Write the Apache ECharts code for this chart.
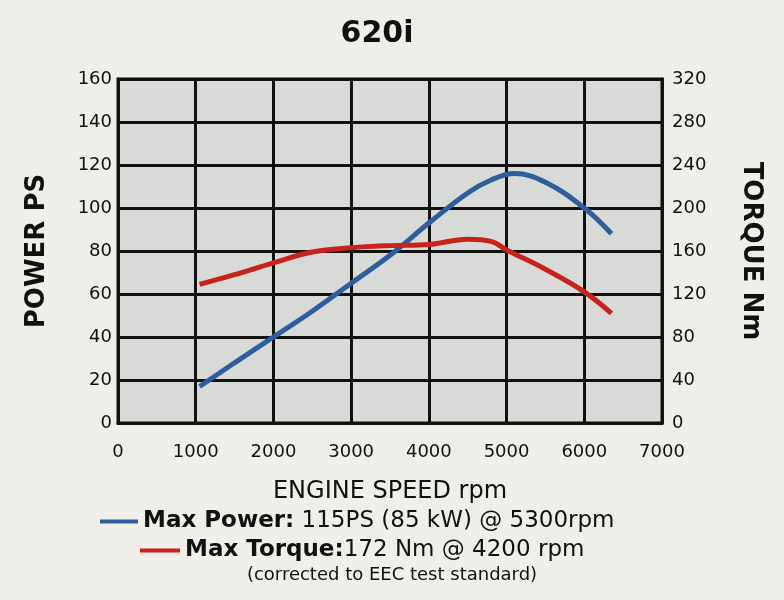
<!DOCTYPE html>
<html>
<head>
<meta charset="utf-8">
<script src="https://cdn.jsdelivr.net/npm/echarts@6/dist/echarts.min.js"></script>
<style>
  html, body { margin: 0; padding: 0; background: #efeee9; }
  #chart { width: 784px; height: 600px; }
</style>
</head>
<body>
<div id="chart"></div>
<script>
// engine speed (rpm) samples
var powerRpm = [1050, 1500, 2000, 2500, 3000, 3500, 4000, 4500, 4800, 5100, 5500, 6000, 6350];
var powerPS = [17, 28, 40, 52, 65, 78, 93, 107, 113, 116, 112, 100, 88];

var torqueRpm = [1050, 1500, 2000, 2500, 3000, 3500, 4000, 4500, 4800, 5000, 5500, 6000, 6350];
var torqueNm = [129, 138, 149, 159, 163, 165, 166, 171, 169, 161, 143, 122, 102];

var xTicks = [0, 7000, 1000];
var powerAxis = [0, 160, 20];
var torqueAxis = [0, 320, 40];

function pairs(xs, ys) {
    return xs.map(function (x, i) { return [x, ys[i]]; });
}

var font = 'DejaVu Sans';
var lineBlack = { color: '#111', width: 3 };

var option = {
    backgroundColor: '#efeee9',
    textStyle: { fontFamily: font },
    title: {
        text: '620i',
        left: 372,
        top: 14,
        textAlign: 'center',
        textStyle: { fontSize: 30, fontWeight: 'bold', color: '#111', fontFamily: font }
    },
    grid: {
        left: 118,
        right: 122,
        top: 79,
        bottom: 177,
        show: true,
        backgroundColor: '#d8dad8',
        borderColor: '#111',
        borderWidth: 3
    },
    xAxis: {
        type: 'value',
        min: xTicks[0],
        max: xTicks[1],
        interval: xTicks[2],
        name: 'ENGINE SPEED rpm',
        nameLocation: 'middle',
        nameGap: 57,
        nameTextStyle: { fontSize: 24, color: '#111' },
        axisLine: { lineStyle: lineBlack },
        axisTick: { show: false },
        axisLabel: {
            fontSize: 18, color: '#111', margin: 20,
            formatter: function (v) { return String(v); }
        },
        splitLine: { lineStyle: lineBlack }
    },
    yAxis: [{
        type: 'value',
        min: powerAxis[0],
        max: powerAxis[1],
        interval: powerAxis[2],
        name: 'POWER PS',
        nameLocation: 'middle',
        nameRotate: 90,
        nameGap: 68,
        nameTextStyle: { fontSize: 26, fontWeight: 'bold', color: '#111' },
        axisLine: { show: true, lineStyle: lineBlack },
        axisTick: { show: false },
        axisLabel: { fontSize: 18, color: '#111', margin: 6 },
        splitLine: { lineStyle: lineBlack }
    }, {
        type: 'value',
        min: torqueAxis[0],
        max: torqueAxis[1],
        interval: torqueAxis[2],
        name: 'TORQUE Nm',
        nameLocation: 'middle',
        nameRotate: -90,
        nameGap: 76,
        nameTextStyle: { fontSize: 26, fontWeight: 'bold', color: '#111' },
        axisLine: { show: true, lineStyle: lineBlack },
        axisTick: { show: false },
        axisLabel: { fontSize: 18, color: '#111', margin: 10 },
        splitLine: { show: false }
    }],
    legend: [{
        data: ['Max Power'],
        left: 95,
        top: 505,
        icon: 'rect',
        itemWidth: 38,
        itemHeight: 4,
        itemGap: 4,
        formatter: function () { return '{b|Max Power:} 115PS (85 kW) @ 5300rpm'; },
        textStyle: {
            fontSize: 23, color: '#111',
            rich: { b: { fontSize: 23, fontWeight: 'bold', color: '#111' } }
        }
    }, {
        data: ['Max Torque'],
        left: 135,
        top: 534,
        icon: 'rect',
        itemWidth: 40,
        itemHeight: 4,
        formatter: function () { return '{b|Max Torque:}172 Nm @ 4200 rpm'; },
        textStyle: {
            fontSize: 23, color: '#111',
            rich: { b: { fontSize: 23, fontWeight: 'bold', color: '#111' } }
        }
    }],
    graphic: [{
        type: 'text',
        left: 'center',
        top: 566,
        style: {
            text: '(corrected to EEC test standard)',
            fontSize: 18,
            fontFamily: font,
            fill: '#111'
        }
    }],
    series: [{
        name: 'Max Power',
        type: 'line',
        yAxisIndex: 0,
        smooth: 0.4,
        showSymbol: false,
        color: '#2d5f9e',
        lineStyle: { width: 5, color: '#2d5f9e' },
        data: pairs(powerRpm, powerPS)
    }, {
        name: 'Max Torque',
        type: 'line',
        yAxisIndex: 1,
        smooth: 0.4,
        showSymbol: false,
        color: '#c8231b',
        lineStyle: { width: 5, color: '#c8231b' },
        data: pairs(torqueRpm, torqueNm)
    }]
};

var chart = echarts.init(document.getElementById('chart'));
chart.setOption(option);
</script>
</body>
</html>
